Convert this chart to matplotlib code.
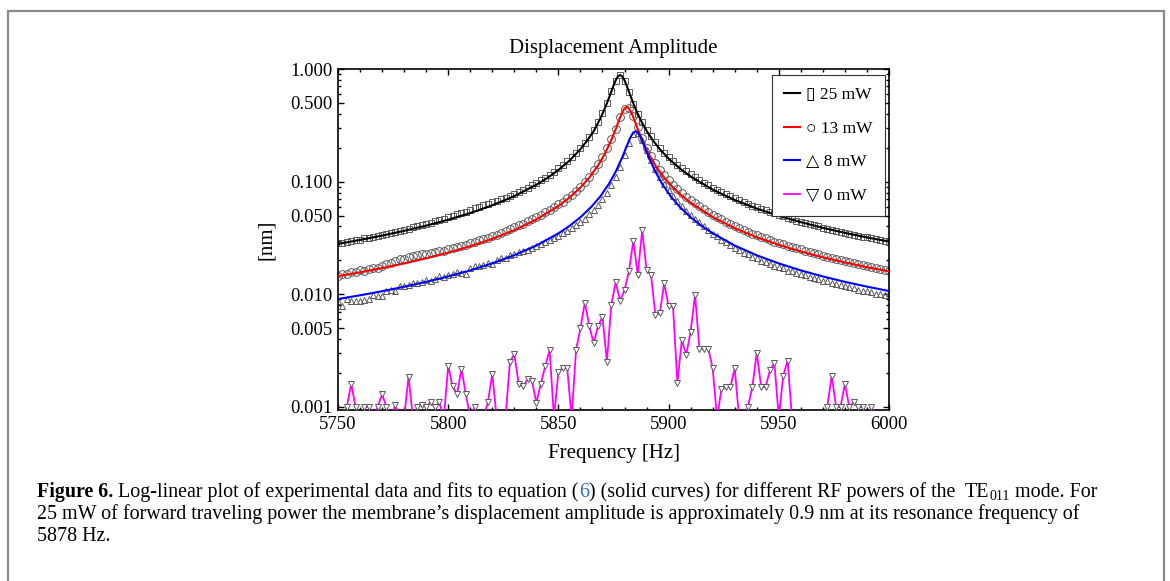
import numpy as np
import matplotlib
matplotlib.use('Agg')
import matplotlib.pyplot as plt
from matplotlib.patches import Rectangle
from matplotlib.ticker import FixedLocator, FixedFormatter, LogLocator, NullFormatter, MultipleLocator

plt.rcParams['font.family'] = ['Liberation Serif', 'DejaVu Sans']

# measurement grid [Hz]
freq = np.arange(5750, 6001, 2)

# measured amplitudes [nm]
amp_25 = [0.0285, 0.0288, 0.0290, 0.0297, 0.0301, 0.0306, 0.0315, 0.0318, 0.0321, 0.0330,
          0.0338, 0.0345, 0.0348, 0.0358, 0.0366, 0.0372, 0.0380, 0.0393, 0.0400, 0.0410,
          0.0425, 0.0432, 0.0447, 0.0458, 0.0470, 0.0486, 0.0498, 0.0512, 0.0530, 0.0541,
          0.0560, 0.0578, 0.0592, 0.0615, 0.0632, 0.0660, 0.0678, 0.0700, 0.0722, 0.0752,
          0.0783, 0.0810, 0.0848, 0.0885, 0.0925, 0.0972, 0.1025, 0.108, 0.115, 0.122,
          0.131, 0.140, 0.152, 0.165, 0.181, 0.199, 0.222, 0.250, 0.287, 0.338,
          0.405, 0.500, 0.640, 0.790, 0.880, 0.780, 0.620, 0.490, 0.400, 0.336,
          0.288, 0.252, 0.223, 0.200, 0.181, 0.166, 0.153, 0.142, 0.132, 0.124,
          0.116, 0.109, 0.103, 0.0975, 0.0930, 0.0885, 0.0845, 0.0808, 0.0772, 0.0741,
          0.0712, 0.0683, 0.0660, 0.0636, 0.0612, 0.0592, 0.0572, 0.0555, 0.0537, 0.0522,
          0.0506, 0.0492, 0.0478, 0.0466, 0.0452, 0.0441, 0.0430, 0.0419, 0.0410, 0.0400,
          0.0391, 0.0382, 0.0374, 0.0367, 0.0358, 0.0352, 0.0344, 0.0338, 0.0332, 0.0325,
          0.0320, 0.0313, 0.0308, 0.0303, 0.0298, 0.0293]

amp_13 = [0.0146, 0.0153, 0.0152, 0.0158, 0.0159, 0.0163, 0.0162, 0.0169, 0.0171, 0.0170,
          0.0178, 0.0185, 0.0188, 0.0199, 0.0205, 0.0207, 0.0213, 0.0219, 0.0222, 0.0226,
          0.0230, 0.0233, 0.0238, 0.0240, 0.0244, 0.0250, 0.0256, 0.0262, 0.0270, 0.0276,
          0.0284, 0.0290, 0.0302, 0.0310, 0.0318, 0.0330, 0.0339, 0.0352, 0.0366, 0.0378,
          0.0392, 0.0410, 0.0425, 0.0445, 0.0462, 0.0490, 0.0508, 0.0535, 0.0566, 0.0595,
          0.0630, 0.0665, 0.0712, 0.0768, 0.0830, 0.0905, 0.100, 0.111, 0.126, 0.143,
          0.166, 0.197, 0.238, 0.296, 0.372, 0.440, 0.452, 0.385, 0.305, 0.245,
          0.200, 0.170, 0.146, 0.128, 0.114, 0.103, 0.094, 0.0858, 0.0790, 0.0732,
          0.0682, 0.0640, 0.0602, 0.0568, 0.0538, 0.0510, 0.0485, 0.0462, 0.0440, 0.0422,
          0.0404, 0.0388, 0.0374, 0.0360, 0.0346, 0.0336, 0.0324, 0.0314, 0.0304, 0.0294,
          0.0286, 0.0278, 0.0270, 0.0263, 0.0256, 0.0250, 0.0243, 0.0238, 0.0231, 0.0226,
          0.0221, 0.0216, 0.0211, 0.0206, 0.0202, 0.0198, 0.0193, 0.0190, 0.0186, 0.0182,
          0.0178, 0.0175, 0.0171, 0.0168, 0.0165, 0.0161]

amp_8 = [0.0088, 0.0078, 0.0090, 0.0088, 0.0087, 0.0088, 0.0089, 0.0090, 0.0098, 0.0096,
         0.0097, 0.0108, 0.0110, 0.0108, 0.0118, 0.0119, 0.0121, 0.0125, 0.0127, 0.0128,
         0.0133, 0.0130, 0.0138, 0.0146, 0.0142, 0.0148, 0.0150, 0.0158, 0.0154, 0.0152,
         0.0170, 0.0177, 0.0180, 0.0182, 0.0190, 0.0185, 0.0200, 0.0210, 0.0212, 0.0222,
         0.0228, 0.0236, 0.0240, 0.0248, 0.0258, 0.0268, 0.0278, 0.0290, 0.0302, 0.0318,
         0.0332, 0.0348, 0.0368, 0.0385, 0.0410, 0.0440, 0.0470, 0.0512, 0.0562, 0.0625,
         0.0700, 0.0800, 0.0930, 0.110, 0.136, 0.172, 0.220, 0.265, 0.270, 0.232,
         0.190, 0.156, 0.130, 0.110, 0.0955, 0.0838, 0.0745, 0.0668, 0.0605, 0.0552,
         0.0508, 0.0470, 0.0436, 0.0402, 0.0372, 0.0345, 0.0328, 0.0305, 0.0290, 0.0272,
         0.0258, 0.0247, 0.0235, 0.0228, 0.0214, 0.0210, 0.0198, 0.0194, 0.0185, 0.0180,
         0.0175, 0.0170, 0.0162, 0.0160, 0.0155, 0.0150, 0.0147, 0.0142, 0.0140, 0.0136,
         0.0132, 0.0131, 0.0126, 0.0124, 0.0120, 0.0118, 0.0115, 0.0113, 0.0110, 0.0108,
         0.0106, 0.0104, 0.0101, 0.0100, 0.0098, 0.0102]

# 0 mW: values below 0.001 fall off the bottom of the plot
amp_0 = [0.0008, 0.0008, 0.0010, 0.0016, 0.0010, 0.0008, 0.0010, 0.0010, 0.0008, 0.0010,
         0.0013, 0.0010, 0.0008, 0.00105, 0.0008, 0.0008, 0.00186, 0.0008, 0.0010, 0.00105,
         0.0010, 0.0011, 0.0010, 0.0011, 0.0008, 0.00232, 0.00152, 0.0013, 0.00218, 0.0013,
         0.0008, 0.0010, 0.0008, 0.0008, 0.0011, 0.00197, 0.0008, 0.0008, 0.0008, 0.00253,
         0.00294, 0.0016, 0.00152, 0.00177, 0.0017, 0.00109, 0.0016, 0.00229, 0.00321, 0.0008,
         0.00206, 0.00221, 0.00221, 0.0008, 0.00321, 0.0050, 0.00845, 0.00525, 0.00368, 0.00525,
         0.0063, 0.00253, 0.00805, 0.0128, 0.0088, 0.0109, 0.0160, 0.030, 0.0149, 0.037,
         0.0165, 0.0149, 0.00656, 0.0068, 0.0125, 0.0078, 0.0078, 0.00163, 0.00394, 0.0029,
         0.00467, 0.0099, 0.00326, 0.0033, 0.0033, 0.0022, 0.0008, 0.00145, 0.0015, 0.0015,
         0.0022, 0.0008, 0.0008, 0.0010, 0.0015, 0.00304, 0.0015, 0.0015, 0.00213, 0.00245,
         0.0008, 0.00189, 0.00258, 0.0008, 0.0008, 0.0008, 0.0008, 0.0008, 0.0008, 0.0008,
         0.0008, 0.0010, 0.0019, 0.0010, 0.0010, 0.0016, 0.0010, 0.0011, 0.0010, 0.0010,
         0.0008, 0.0010, 0.0008, 0.0008, 0.0008, 0.0008]

# fitted curves
fit25_f = [5750, 5760, 5770, 5780, 5790, 5800, 5810, 5820, 5830, 5840, 5845, 5850, 5855, 5860,
           5863, 5866, 5868, 5870, 5872, 5874, 5875, 5876, 5877, 5878, 5879, 5880, 5881, 5882,
           5884, 5886, 5888, 5890, 5893, 5896, 5900, 5905, 5910, 5920, 5930, 5940, 5950, 5960,
           5970, 5980, 5990, 6000]
fit25_a = [0.0280, 0.0304, 0.0332, 0.0366, 0.0407, 0.0459, 0.0526, 0.0617, 0.0744, 0.0938, 0.1078,
           0.1268, 0.1535, 0.1940, 0.2308, 0.2806, 0.3322, 0.3997, 0.4951, 0.6297, 0.711, 0.7935,
           0.859, 0.885, 0.859, 0.7935, 0.711, 0.6297, 0.4951, 0.3997, 0.3322, 0.2830, 0.2308,
           0.1943, 0.1601, 0.1313, 0.1112, 0.0849, 0.0687, 0.0577, 0.0497, 0.0437, 0.0389, 0.0351,
           0.0320, 0.0294]

fit13_f = [5750, 5760, 5770, 5780, 5790, 5800, 5810, 5820, 5830, 5840, 5850, 5855, 5860, 5864,
           5868, 5871, 5874, 5876, 5878, 5879, 5880, 5881, 5882, 5883, 5884, 5886, 5888, 5891,
           5894, 5898, 5902, 5906, 5910, 5920, 5930, 5940, 5950, 5960, 5970, 5980, 5990, 6000]
fit13_a = [0.01450, 0.01569, 0.01711, 0.01880, 0.02086, 0.02343, 0.02672, 0.03107, 0.03713,
           0.04610, 0.06076, 0.07217, 0.0888, 0.1086, 0.1393, 0.1756, 0.2337, 0.2928, 0.3719,
           0.4137, 0.4464, 0.4595, 0.4464, 0.4137, 0.3719, 0.2928, 0.2337, 0.1756, 0.1393,
           0.1086, 0.0888, 0.0750, 0.0649, 0.0485, 0.0386, 0.0321, 0.0275, 0.0240, 0.0213,
           0.0192, 0.0174, 0.0160]

fit8_f = [5750, 5760, 5770, 5780, 5790, 5800, 5810, 5820, 5830, 5840, 5850, 5855, 5860, 5865,
          5869, 5873, 5876, 5879, 5881, 5882, 5883, 5884, 5885, 5886, 5887, 5888, 5889, 5891,
          5894, 5897, 5901, 5905, 5910, 5915, 5920, 5930, 5940, 5950, 5960, 5970, 5980, 5990, 6000]
fit8_a = [0.00908, 0.00980, 0.01065, 0.01167, 0.01289, 0.01441, 0.01633, 0.01882, 0.02223,
          0.02712, 0.03476, 0.04044, 0.04830, 0.05989, 0.07390, 0.09601, 0.1225, 0.1650, 0.2066,
          0.2309, 0.2545, 0.2724, 0.2798, 0.2724, 0.2545, 0.2309, 0.2066, 0.1650, 0.1225, 0.0960,
          0.0739, 0.0599, 0.0483, 0.0404, 0.0348, 0.0271, 0.0222, 0.0188, 0.0163, 0.0144, 0.0129,
          0.0117, 0.0107]

labels = ['\u25af 25 mW', '\u25cb 13 mW', '\u25b3 8 mW', '\u25bd 0 mW']
y_ticks = [0.001, 0.005, 0.01, 0.05, 0.1, 0.5, 1.0]
y_ticklabels = ['0.001', '0.005', '0.010', '0.050', '0.100', '0.500', '1.000']

W, H = 1170, 581
fig = plt.figure(figsize=(W / 100, H / 100), dpi=100)
ax = fig.add_axes([338 / W, 1 - 410 / H, (889 - 338) / W, (410 - 69) / H])

edge = '#5a5a5a'
ax.plot(freq, amp_25, ls='none', marker='s', ms=3.8, mfc='none', mec=edge, mew=0.7, zorder=2)
ax.plot(freq, amp_13, ls='none', marker='o', ms=5.6, mfc='none', mec=edge, mew=0.7, zorder=2)
ax.plot(freq, amp_8, ls='none', marker='^', ms=4.8, mfc='none', mec=edge, mew=0.7, zorder=2)

ax.plot(fit25_f, fit25_a, color='black', lw=1.5, label=labels[0], zorder=3)
ax.plot(fit13_f, fit13_a, color='#ff0000', lw=1.5, label=labels[1], zorder=3)
ax.plot(fit8_f, fit8_a, color='#0000ff', lw=1.5, label=labels[2], zorder=3)
ax.plot(freq, amp_0, color='#ff00ff', lw=1.3, label=labels[3], zorder=3)
ax.plot(freq, amp_0, ls='none', marker='v', ms=4.6, mfc='white', mec=edge, mew=0.7, zorder=4)

ax.set_yscale('log')
ax.set_xlim(5750, 6000)
ax.set_ylim(0.00094, 1.0)

ax.xaxis.set_major_locator(MultipleLocator(50))
ax.xaxis.set_minor_locator(MultipleLocator(10))
ax.yaxis.set_major_locator(FixedLocator(y_ticks))
ax.yaxis.set_major_formatter(FixedFormatter(y_ticklabels))
ax.yaxis.set_minor_locator(LogLocator(base=10, subs=(2, 3, 4, 6, 7, 8, 9)))
ax.yaxis.set_minor_formatter(NullFormatter())

ax.tick_params(which='both', direction='in', top=True, right=True, width=1.0,
               labelsize=13.5, colors='black')
ax.tick_params(which='major', length=4.5, pad=4)
ax.tick_params(which='minor', length=2.5)
for s in ax.spines.values():
    s.set_linewidth(1.2)

leg = ax.legend(loc='upper right', bbox_to_anchor=(0.993, 0.982), borderaxespad=0,
                fontsize=12.5, handlelength=0.9, handletextpad=0.4, labelspacing=1.0,
                borderpad=0.7, fancybox=False, framealpha=1, edgecolor='#333333')
leg.get_frame().set_linewidth(0.8)

fig.text(613.5 / W, 1 - 53 / H, 'Displacement Amplitude', ha='center', va='baseline', fontsize=15)
fig.text(613.5 / W, 1 - 458 / H, 'Frequency [Hz]', ha='center', va='baseline', fontsize=15)
fig.text(266 / W, 1 - 240 / H, '[nm]', ha='center', va='center', rotation=90, fontsize=15)

# outer frame
fig.add_artist(Rectangle((8 / W, -0.2), (1164 - 8) / W, 0.2 + 1 - 11 / H, transform=fig.transFigure,
                         fill=False, edgecolor='#8a8a8a', lw=1.6))

# caption, drawn piece by piece
r = fig.canvas.get_renderer()
cap_size = 14.4


def text_w(s, **kw):
    t = fig.text(0, 0, s, **kw)
    w = t.get_window_extent(renderer=r).width
    t.remove()
    return w


space = text_w('a a', fontsize=cap_size) - text_w('aa', fontsize=cap_size)


def caption_line(x, y, pieces):
    for s, kw in pieces:
        if s == ' ':
            x += space
            continue
        kw = dict(kw)
        dy = kw.pop('dy', 0)
        size = kw.pop('size', cap_size)
        t = fig.text(x / W, 1 - (y + dy) / H, s, fontsize=size, va='baseline', ha='left', **kw)
        x += t.get_window_extent(renderer=r).width


caption_line(37, 497, [('Figure 6.', dict(weight='bold')), (' ', {}),
                       ('Log-linear plot of experimental data and fits to equation (', {}),
                       ('6', dict(color='#2f6db5')),
                       (') (solid curves) for different RF powers of the', {}), (' ', {}), (' ', {}),
                       ('TE', {}), ('011', dict(size=10, dy=3)), (' ', {}),
                       ('mode. For', {})])
caption_line(37, 519, [('25 mW of forward traveling power the membrane\u2019s displacement amplitude '
                        'is approximately 0.9 nm at its resonance frequency of', {})])
caption_line(37, 541, [('5878 Hz.', {})])

fig.savefig('out.png', dpi=100)
